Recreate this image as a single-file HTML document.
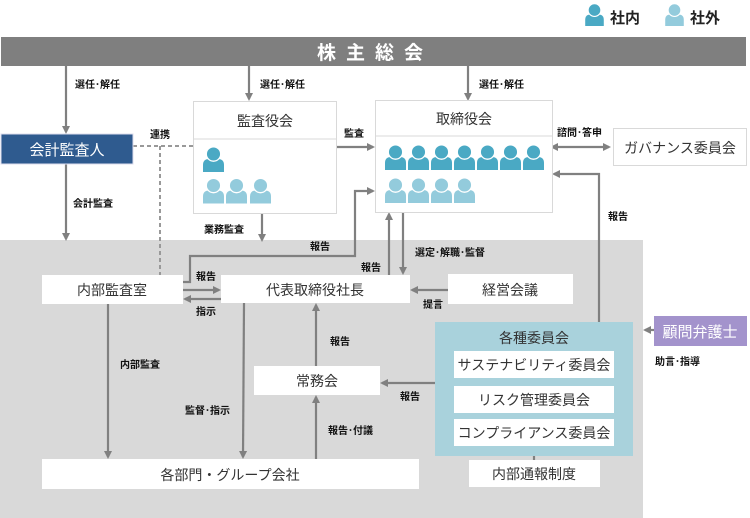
<!DOCTYPE html>
<html><head><meta charset="utf-8"><style>
body{margin:0;background:#fff;}
svg{display:block;font-family:"Liberation Sans","Noto Sans CJK JP",sans-serif;}
.b{font-weight:bold;font-size:10px;fill:#111;}
.n{font-size:14px;fill:#333;}
</style></head><body>
<svg width="750" height="518" viewBox="0 0 750 518" xmlns="http://www.w3.org/2000/svg">
<defs>
<marker id="a" markerWidth="8" markerHeight="8" refX="6" refY="4" orient="auto" markerUnits="userSpaceOnUse"><path d="M0,0 L8,4 L0,8 Z" fill="#808080"/></marker>
<marker id="as" markerWidth="8" markerHeight="8" refX="2" refY="4" orient="auto-start-reverse" markerUnits="userSpaceOnUse"><path d="M0,0 L8,4 L0,8 Z" fill="#808080"/></marker>
<symbol id="pd" viewBox="0 0 21 26"><path d="M0 26 V19 Q0 13 6 13 H15 Q21 13 21 19 V26 Z" fill="#4aa9c4"/><circle cx="10.5" cy="8" r="7.2" fill="#4aa9c4" stroke="#fff" stroke-width="1.3"/></symbol>
<symbol id="pl" viewBox="0 0 21 26"><path d="M0 26 V19 Q0 13 6 13 H15 Q21 13 21 19 V26 Z" fill="#93cbdc"/><circle cx="10.5" cy="8" r="7.2" fill="#93cbdc" stroke="#fff" stroke-width="1.3"/></symbol>
</defs>

<!-- legend -->
<use href="#pd" x="585" y="3" width="19" height="23"/>
<text x="610" y="23" font-size="15" font-weight="bold" fill="#222">社内</text>
<use href="#pl" x="665" y="3" width="19" height="23"/>
<text x="690" y="23" font-size="15" font-weight="bold" fill="#222">社外</text>

<!-- header -->
<rect x="1" y="37" width="745" height="29" fill="#7f7f7f"/>
<text x="375" y="59" text-anchor="middle" font-size="19" font-weight="bold" fill="#fff" letter-spacing="10">株主総会</text>

<!-- gray area -->
<rect x="0" y="240" width="643" height="278" fill="#d9d9d9"/>

<g stroke="#808080" stroke-width="2.2" fill="none">
<line x1="66" y1="66" x2="66" y2="132" marker-end="url(#a)"/>
<line x1="249" y1="66" x2="249" y2="99" marker-end="url(#a)"/>
<line x1="468" y1="66" x2="468" y2="99" marker-end="url(#a)"/>
<line x1="66" y1="164" x2="66" y2="239" marker-end="url(#a)"/>
<line x1="337" y1="147" x2="373" y2="147" marker-end="url(#a)"/>
<line x1="262" y1="214" x2="262" y2="240" marker-end="url(#a)"/>
<polyline points="183,282 190,282 190,256 355,256 355,191 373,191" marker-end="url(#a)"/>
<line x1="183" y1="290" x2="219" y2="290" marker-end="url(#a)"/>
<line x1="221" y1="299" x2="185" y2="299" marker-end="url(#a)"/>
<line x1="389" y1="275" x2="389" y2="214" marker-end="url(#a)"/>
<line x1="403" y1="212" x2="403" y2="273" marker-end="url(#a)"/>
<polyline points="599,322 599,174 554,174" marker-end="url(#a)"/>
<line x1="556" y1="147" x2="609" y2="147" marker-start="url(#as)" marker-end="url(#a)"/>
<line x1="448" y1="290" x2="412" y2="290" marker-end="url(#a)"/>
<line x1="435" y1="383" x2="382" y2="383" marker-end="url(#a)"/>
<line x1="316" y1="366" x2="316" y2="305" marker-end="url(#a)"/>
<line x1="316" y1="459" x2="316" y2="397" marker-end="url(#a)"/>
<line x1="244" y1="303" x2="243" y2="457" marker-end="url(#a)"/>
<line x1="108" y1="304" x2="108" y2="457" marker-end="url(#a)"/>
<line x1="654" y1="330" x2="645" y2="330" marker-end="url(#a)"/>
<line x1="534" y1="446" x2="534" y2="460"/>
</g>
<g stroke="#999" stroke-width="2" stroke-dasharray="4,3" fill="none">
<line x1="133" y1="146" x2="193" y2="146"/>
<line x1="160" y1="146" x2="160" y2="275"/>
</g>

<!-- boxes -->
<rect x="1" y="134" width="132" height="30" fill="#2f5b8f" stroke="#dde" stroke-width="1"/>
<text x="67" y="155" text-anchor="middle" font-size="15" fill="#fff">会計監査人</text>

<rect x="193.5" y="101.5" width="143" height="112" fill="#fff" stroke="#d9d9d9"/>
<line x1="193" y1="139" x2="337" y2="139" stroke="#d9d9d9"/>
<text x="265" y="126" text-anchor="middle" class="n" font-size="15">監査役会</text>
<use href="#pd" x="203" y="146" width="21" height="26"/>
<use href="#pl" x="203" y="177" width="21" height="27"/>
<use href="#pl" x="226" y="177" width="21" height="27"/>
<use href="#pl" x="250" y="177" width="21" height="27"/>

<rect x="375.5" y="100.5" width="177" height="112" fill="#fff" stroke="#d9d9d9"/>
<line x1="375" y1="136" x2="553" y2="136" stroke="#d9d9d9"/>
<text x="464" y="124" text-anchor="middle" class="n" font-size="15">取締役会</text>
<use href="#pd" x="385" y="144" width="21" height="26"/>
<use href="#pd" x="408" y="144" width="21" height="26"/>
<use href="#pd" x="431" y="144" width="21" height="26"/>
<use href="#pd" x="454" y="144" width="21" height="26"/>
<use href="#pd" x="477" y="144" width="21" height="26"/>
<use href="#pd" x="500" y="144" width="21" height="26"/>
<use href="#pd" x="523" y="144" width="21" height="26"/>
<use href="#pl" x="385" y="177" width="21" height="26"/>
<use href="#pl" x="408" y="177" width="21" height="26"/>
<use href="#pl" x="431" y="177" width="21" height="26"/>
<use href="#pl" x="454" y="177" width="21" height="26"/>

<rect x="613.5" y="128.5" width="133" height="37" fill="#fff" stroke="#d9d9d9"/>
<text x="680" y="153" text-anchor="middle" class="n">ガバナンス委員会</text>

<rect x="42" y="275" width="141" height="29" fill="#fff"/>
<text x="112" y="295" text-anchor="middle" class="n" font-size="15">内部監査室</text>
<rect x="221" y="275" width="189" height="28" fill="#fff"/>
<text x="315" y="295" text-anchor="middle" class="n" font-size="15">代表取締役社長</text>
<rect x="448" y="274" width="125" height="30" fill="#fff"/>
<text x="510" y="295" text-anchor="middle" class="n" font-size="15">経営会議</text>
<rect x="254" y="366" width="126" height="29" fill="#fff"/>
<text x="317" y="386" text-anchor="middle" class="n" font-size="15">常務会</text>
<rect x="42" y="459" width="377" height="30" fill="#fff"/>
<text x="230" y="480" text-anchor="middle" class="n" font-size="15">各部門・グループ会社</text>

<rect x="435" y="322" width="198" height="134" fill="#a9d2dc"/>
<text x="534" y="343" text-anchor="middle" class="n" font-size="15">各種委員会</text>
<rect x="454" y="351" width="160" height="27" fill="#fff"/>
<text x="534" y="370" text-anchor="middle" class="n">サステナビリティ委員会</text>
<rect x="454" y="386" width="160" height="27" fill="#fff"/>
<text x="534" y="405" text-anchor="middle" class="n">リスク管理委員会</text>
<rect x="454" y="419" width="160" height="27" fill="#fff"/>
<text x="534" y="438" text-anchor="middle" class="n">コンプライアンス委員会</text>
<rect x="469" y="460" width="131" height="27" fill="#fff"/>
<text x="534" y="479" text-anchor="middle" class="n">内部通報制度</text>

<rect x="654" y="316" width="93" height="30" fill="#a393cc"/>
<text x="700" y="337" text-anchor="middle" font-size="15" fill="#fff">顧問弁護士</text>

<!-- labels -->
<text x="75" y="88" class="b">選任･解任</text>
<text x="260" y="88" class="b">選任･解任</text>
<text x="479" y="88" class="b">選任･解任</text>
<text x="73" y="207" class="b">会計監査</text>
<text x="150" y="138" class="b">連携</text>
<text x="344" y="137" class="b">監査</text>
<text x="204" y="233" class="b">業務監査</text>
<text x="310" y="250" class="b">報告</text>
<text x="196" y="280" class="b">報告</text>
<text x="196" y="315" class="b">指示</text>
<text x="361" y="271" class="b">報告</text>
<text x="415" y="256" class="b">選定･解職･監督</text>
<text x="557" y="136" class="b">諮問･答申</text>
<text x="608" y="220" class="b">報告</text>
<text x="423" y="308" class="b">提言</text>
<text x="400" y="400" class="b">報告</text>
<text x="330" y="345" class="b">報告</text>
<text x="328" y="434" class="b">報告･付議</text>
<text x="185" y="414" class="b">監督･指示</text>
<text x="120" y="368" class="b">内部監査</text>
<text x="655" y="365" class="b">助言･指導</text>
</svg>
</body></html>
